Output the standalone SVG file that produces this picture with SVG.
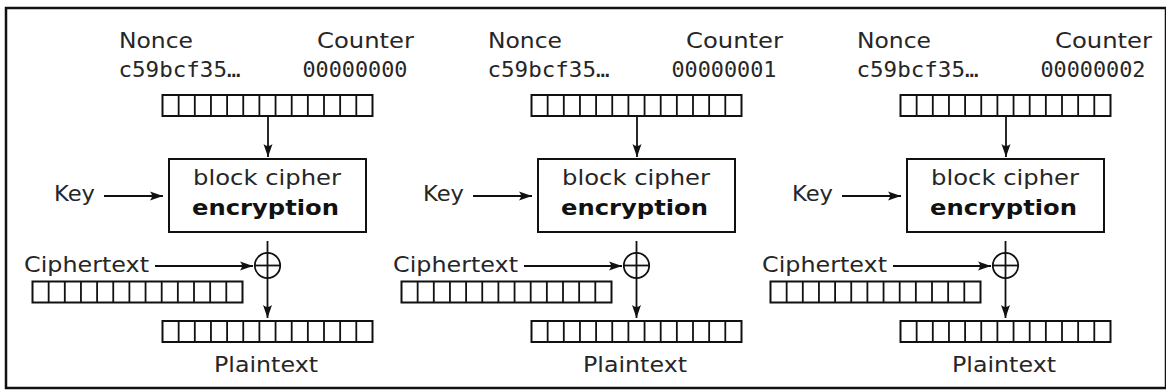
<svg xmlns="http://www.w3.org/2000/svg" xmlns:xlink="http://www.w3.org/1999/xlink" width="1166" height="390" viewBox="0 0 1166 390">
<style>
.t{font-family:"DejaVu Sans",Verdana,sans-serif;font-size:22px;fill:#262626}
.m{font-family:"DejaVu Sans Mono","Liberation Mono",monospace;font-size:22px;fill:#262626}
.b{font-weight:bold;fill:#111}
.reg{fill:#fff;stroke:#111;stroke-width:2}
.box{fill:#fff;stroke:#111;stroke-width:2}
.ln{fill:none;stroke:#111;stroke-width:1.8}
.xor{fill:none;stroke:#111;stroke-width:1.8}
</style>
<defs>
<marker id="ah" markerUnits="userSpaceOnUse" viewBox="-13 -5 14 10" refX="0" refY="0" markerWidth="14" markerHeight="10" orient="auto">
<path d="M0,0 L-13,-4.5 Q-9,0 -13,4.5 Z" fill="#111"/>
</marker>
<g id="register">
<rect class="reg" x="0" y="0" width="210" height="21"/>
<path class="ln" d="M16.15,0V21M32.3,0V21M48.45,0V21M64.6,0V21M80.75,0V21M96.9,0V21M113.05,0V21M129.2,0V21M145.35,0V21M161.5,0V21M177.65,0V21M193.8,0V21"/>
</g>
</defs>
<rect x="6" y="8" width="1160" height="380" fill="#fff" stroke="#111" stroke-width="2.5"/>

<g id="panel1">
<g id="nonce1"><text class="t" x="119" y="48" textLength="74" lengthAdjust="spacingAndGlyphs">Nonce</text><text class="m" x="118.5" y="77" textLength="122" lengthAdjust="spacingAndGlyphs">c59bcf35…</text></g>
<g id="counter1"><text class="t" x="317" y="48" textLength="97" lengthAdjust="spacingAndGlyphs">Counter</text><text class="m" x="302.5" y="77" textLength="105" lengthAdjust="spacingAndGlyphs">00000000</text></g>
<g id="input1"><use xlink:href="#register" x="162.5" y="95"/></g>
<g id="cipher1"><rect class="box" x="169" y="159" width="197" height="73"/><text class="t" x="193" y="184.5" textLength="148" lengthAdjust="spacingAndGlyphs">block cipher</text><text class="t b" x="192" y="215" textLength="147" lengthAdjust="spacingAndGlyphs">encryption</text></g>
<g id="key1"><text class="t" x="54" y="201" textLength="41" lengthAdjust="spacingAndGlyphs">Key</text></g>
<g id="ctlabel1"><text class="t" x="24" y="272" textLength="125" lengthAdjust="spacingAndGlyphs">Ciphertext</text></g>
<g id="ct1"><use xlink:href="#register" x="32.5" y="281.5"/></g>
<g id="xor1"><circle class="xor" cx="267.5" cy="265.5" r="12.7"/><path class="ln" d="M254.8,265.5H280.2"/></g>
<g id="pt1"><use xlink:href="#register" x="162.5" y="321"/><text class="t" x="214" y="372" textLength="104" lengthAdjust="spacingAndGlyphs">Plaintext</text></g>
</g>

<g id="panel2">
<g id="nonce2"><text class="t" x="488" y="48" textLength="74" lengthAdjust="spacingAndGlyphs">Nonce</text><text class="m" x="487.5" y="77" textLength="122" lengthAdjust="spacingAndGlyphs">c59bcf35…</text></g>
<g id="counter2"><text class="t" x="686" y="48" textLength="97" lengthAdjust="spacingAndGlyphs">Counter</text><text class="m" x="671.5" y="77" textLength="105" lengthAdjust="spacingAndGlyphs">00000001</text></g>
<g id="input2"><use xlink:href="#register" x="531.5" y="95"/></g>
<g id="cipher2"><rect class="box" x="538" y="159" width="197" height="73"/><text class="t" x="562" y="184.5" textLength="148" lengthAdjust="spacingAndGlyphs">block cipher</text><text class="t b" x="561" y="215" textLength="147" lengthAdjust="spacingAndGlyphs">encryption</text></g>
<g id="key2"><text class="t" x="423" y="201" textLength="41" lengthAdjust="spacingAndGlyphs">Key</text></g>
<g id="ctlabel2"><text class="t" x="393" y="272" textLength="125" lengthAdjust="spacingAndGlyphs">Ciphertext</text></g>
<g id="ct2"><use xlink:href="#register" x="401.5" y="281.5"/></g>
<g id="xor2"><circle class="xor" cx="636.5" cy="265.5" r="12.7"/><path class="ln" d="M623.8,265.5H649.2"/></g>
<g id="pt2"><use xlink:href="#register" x="531.5" y="321"/><text class="t" x="583" y="372" textLength="104" lengthAdjust="spacingAndGlyphs">Plaintext</text></g>
</g>

<g id="panel3">
<g id="nonce3"><text class="t" x="857" y="48" textLength="74" lengthAdjust="spacingAndGlyphs">Nonce</text><text class="m" x="856.5" y="77" textLength="122" lengthAdjust="spacingAndGlyphs">c59bcf35…</text></g>
<g id="counter3"><text class="t" x="1055" y="48" textLength="97" lengthAdjust="spacingAndGlyphs">Counter</text><text class="m" x="1040.5" y="77" textLength="105" lengthAdjust="spacingAndGlyphs">00000002</text></g>
<g id="input3"><use xlink:href="#register" x="900.5" y="95"/></g>
<g id="cipher3"><rect class="box" x="907" y="159" width="197" height="73"/><text class="t" x="931" y="184.5" textLength="148" lengthAdjust="spacingAndGlyphs">block cipher</text><text class="t b" x="930" y="215" textLength="147" lengthAdjust="spacingAndGlyphs">encryption</text></g>
<g id="key3"><text class="t" x="792" y="201" textLength="41" lengthAdjust="spacingAndGlyphs">Key</text></g>
<g id="ctlabel3"><text class="t" x="762" y="272" textLength="125" lengthAdjust="spacingAndGlyphs">Ciphertext</text></g>
<g id="ct3"><use xlink:href="#register" x="770.5" y="281.5"/></g>
<g id="xor3"><circle class="xor" cx="1005.5" cy="265.5" r="12.7"/><path class="ln" d="M992.8,265.5H1018.2"/></g>
<g id="pt3"><use xlink:href="#register" x="900.5" y="321"/><text class="t" x="952" y="372" textLength="104" lengthAdjust="spacingAndGlyphs">Plaintext</text></g>
</g>

<g id="connectors" class="ln" marker-end="url(#ah)">
<path d="M268,116V157"/>
<path d="M104,196H163"/>
<path d="M155,266H253"/>
<path d="M267.5,241V318"/>
<path d="M637,116V157"/>
<path d="M473,196H532"/>
<path d="M524,266H622"/>
<path d="M636.5,241V318"/>
<path d="M1006,116V157"/>
<path d="M842,196H901"/>
<path d="M893,266H991"/>
<path d="M1005.5,241V318"/>
</g>
</svg>
